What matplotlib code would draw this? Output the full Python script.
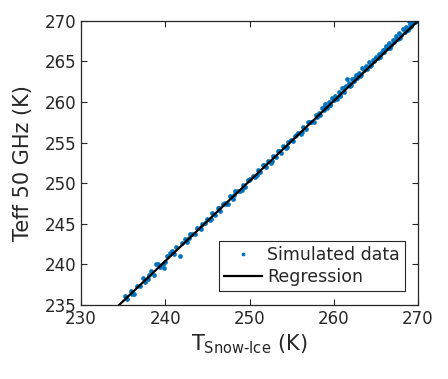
import matplotlib
matplotlib.use("Agg")
import matplotlib.pyplot as plt
import numpy as np

# Simulated data (T_Snow-Ice, Teff 50 GHz)
sim_x = [235.2, 235.5, 235.9, 236.3, 236.6, 237.0, 237.3, 237.6, 237.9, 238.3,
         238.6, 238.9, 239.1, 239.4, 239.7, 239.9, 240.2, 240.5, 240.8, 241.0,
         241.3, 241.7, 242.0, 242.3, 242.6, 242.9, 243.2, 243.5, 243.8, 244.1,
         244.4, 244.7,
         245.0, 245.3, 245.6, 245.9, 246.2, 246.5, 246.8, 247.1, 247.4, 247.7,
         248.0, 248.3, 248.6, 248.9, 249.2, 249.5, 249.8, 250.1, 250.4, 250.7,
         251.0, 251.3, 251.6, 251.9, 252.2, 252.5, 252.8, 253.1, 253.4, 253.7,
         254.0, 254.3, 254.6, 254.9, 255.2, 255.5, 255.8, 256.1, 256.4, 256.7,
         257.0, 257.3, 257.6, 257.9,
         258.2, 258.4, 258.6, 258.8, 259.0, 259.2, 259.4, 259.6, 259.8, 260.0,
         260.2, 260.4, 260.6, 260.8, 261.0, 261.2, 261.4, 261.6, 261.8, 262.0,
         262.2, 262.4, 262.6, 262.8, 263.0, 263.2, 263.4, 263.6, 263.8, 264.0,
         264.2, 264.4, 264.6, 264.8, 265.0, 265.2, 265.4, 265.6, 265.8, 266.0,
         266.2, 266.4, 266.6, 266.8, 267.0, 267.2, 267.4, 267.6, 267.8, 268.0,
         268.2, 268.4, 268.6, 268.8, 269.0, 269.2, 269.4, 269.6, 268.9, 269.9,
         # second pass (denser band)
         236.1, 238.1, 240.0, 242.8, 244.2,
         245.45, 246.35, 247.25, 248.15, 249.05, 249.95, 250.85, 251.75, 252.65,
         253.55, 254.45, 255.35, 256.25, 257.15, 258.05, 258.9, 259.5, 260.1,
         260.7, 261.3, 261.9, 262.5, 263.1, 263.7, 264.3, 264.9, 265.5, 266.1,
         266.7, 267.3, 267.9, 268.5, 269.1]
sim_y = [236.1, 235.8, 236.7, 236.4, 237.4, 237.3, 238.3, 237.8, 238.2, 239.2,
         238.7, 240.0, 240.1, 239.7, 240.0, 239.6, 241.0, 241.4, 241.6, 241.3,
         242.1, 241.0, 242.7, 243.1, 242.8, 243.7, 243.8, 243.8, 244.5, 244.5,
         245.0, 245.1,
         245.6, 245.5, 246.3, 246.1, 246.9, 246.6, 247.4, 247.6, 247.5, 248.4,
         248.1, 249.0, 249.1, 249.0, 249.8, 249.6, 250.4, 250.5, 250.9, 250.8,
         251.6, 251.4, 252.2, 252.0, 252.8, 252.5, 253.4, 253.2, 254.0, 253.7,
         254.6, 254.3, 255.1, 255.3, 255.2, 256.0, 256.2, 256.1, 256.9, 256.7,
         257.5, 257.6, 257.6, 258.4,
         258.7, 258.4, 259.3, 259.0, 259.7, 259.3, 260.0, 259.6, 260.5, 260.2,
         260.8, 260.4, 261.2, 260.8, 261.7, 261.3, 262.0, 262.9, 262.4, 262.1,
         262.9, 262.6, 263.3, 263.0, 263.6, 263.3, 264.2, 263.9, 264.5, 264.1,
         264.9, 264.6, 265.2, 265.0, 265.6, 265.4, 265.9, 266.0, 266.4, 266.2,
         266.9, 266.6, 267.3, 267.0, 267.7, 267.4, 268.1, 267.8, 268.5, 268.2,
         269.0, 268.6, 269.3, 268.9, 269.6, 269.4, 269.8, 269.8, 270.0, 270.0,
         # second pass
         236.4, 238.7, 240.3, 243.3, 244.4,
         245.6, 246.9, 247.4, 248.6, 249.2, 250.4, 251.0, 252.2, 252.7,
         254.0, 254.5, 255.8, 256.3, 257.5, 258.1, 259.4, 259.6, 260.6,
         260.9, 261.8, 262.0, 263.0, 263.2, 264.2, 264.4, 265.3, 265.6, 266.5,
         266.7, 267.7, 267.9, 269.0, 269.2]

# Regression line endpoints
reg_x = [234.5, 270.0]
reg_y = [235.0, 270.0]

x_ticks = [230, 240, 250, 260, 270]
y_ticks = [235, 240, 245, 250, 255, 260, 265, 270]

plt.rcParams['font.family'] = ['DejaVu Sans']
fig = plt.figure(figsize=(4.48, 3.79), dpi=100)
ax = fig.add_axes([0.181, 0.195, 0.752, 0.750])

dark = '#262626'
ax.plot(sim_x, sim_y, linestyle='none', marker='o', ms=3.4, mew=0,
        color='#0072BD', label='Simulated data')
ax.plot(reg_x, reg_y, color='black', lw=1.6, label='Regression')

ax.set_xlim(230, 270)
ax.set_ylim(235, 270)
ax.set_xticks(x_ticks)
ax.set_yticks(y_ticks)
ax.tick_params(direction='in', top=True, right=True, labelsize=12,
               colors=dark, length=4, width=0.8)
for s in ax.spines.values():
    s.set_color(dark)
    s.set_linewidth(0.9)

ax.set_xlabel('$\\mathregular{T_{Snow\u2010Ice}}$ (K)', fontsize=15, color=dark, labelpad=3)
ax.set_ylabel('Teff 50 GHz (K)', fontsize=15, color=dark, labelpad=8)

leg = ax.legend(loc='lower right', bbox_to_anchor=(0.962, 0.05), fontsize=12.5,
                frameon=True, fancybox=False, edgecolor=dark, framealpha=1,
                handlelength=2.2, borderpad=0.3, labelspacing=0.2,
                handletextpad=0.3, markerscale=0.8, borderaxespad=0)
leg.get_frame().set_linewidth(0.8)
for t in leg.get_texts():
    t.set_color(dark)

fig.savefig('out.png', dpi=100)
